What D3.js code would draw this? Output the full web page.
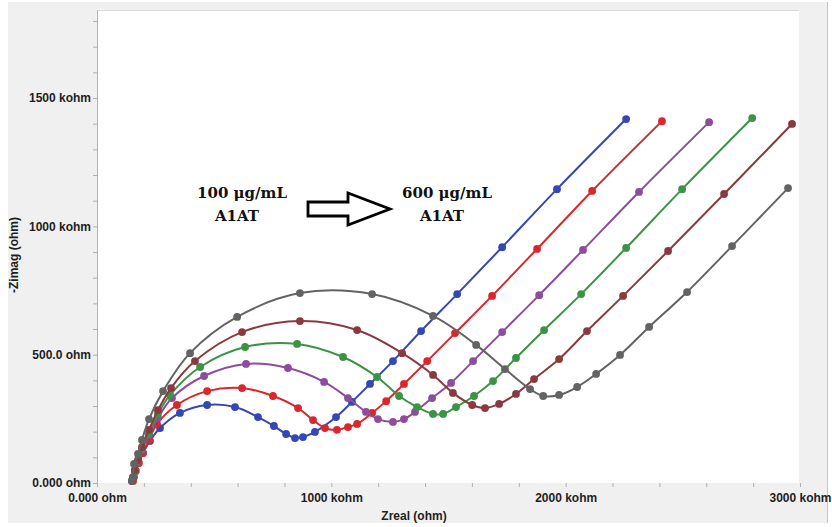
<!DOCTYPE html>
<html>
<head>
<meta charset="utf-8">
<script src="https://cdn.jsdelivr.net/npm/d3@7"></script>
<style>
  body { margin: 0; background: #fff; }
</style>
</head>
<body>
<div id="nyquist"></div>
<script>
// Nyquist data (ohm)
var blueX = [149,154,162,175,196,226,269,354,470,589,687,755,807,845,879,930,1020,1088,1165,1263,1383,1537,1729,1963,2258];
var blueY = [8,23,47,78,117,164,214,273,304,296,257,222,191,175,179,199,257,316,386,475,592,736,919,1145,1418];

var redX = [154,158,166,179,196,222,256,341,470,619,751,858,922,973,1024,1071,1110,1174,1234,1310,1409,1528,1686,1878,2113,2411];
var redY = [8,23,47,78,117,168,230,304,358,370,339,292,245,214,207,218,230,273,319,386,475,584,729,912,1138,1410];

var purpleX = [154,162,175,192,222,260,320,457,636,815,969,1071,1148,1199,1263,1310,1357,1430,1511,1605,1729,1887,2074,2313,2612];
var purpleY = [20,47,82,129,187,253,331,417,464,448,394,331,277,249,238,249,277,331,390,475,588,732,908,1134,1406];

var greenX = [154,162,175,192,222,260,312,440,632,854,1050,1195,1289,1366,1434,1477,1532,1609,1690,1788,1908,2066,2258,2497,2796];
var greenY = [20,47,86,132,195,269,343,452,530,542,491,413,339,296,269,269,296,339,397,487,596,736,916,1145,1422];

var brownX = [154,162,175,192,222,260,316,418,619,866,1110,1302,1434,1519,1601,1656,1716,1788,1865,1972,2091,2245,2437,2676,2966];
var brownY = [20,51,90,140,207,284,370,475,588,631,596,506,421,351,304,292,308,347,405,483,592,729,904,1126,1399];

var grayX = [149,154,158,175,192,222,282,397,598,866,1174,1434,1618,1741,1848,1904,1972,2049,2130,2232,2356,2518,2710,2949];
var grayY = [8,23,74,113,168,249,358,506,647,740,736,651,538,444,366,339,343,374,425,499,608,744,923,1149];

var seriesColors = ["#3447b2", "#d9272b", "#8d4d9d", "#3b9346", "#8a3a3e", "#636363"];

// tick labels
var xTickValues = [0, 1000, 2000, 3000];
var xTickLabels = ["0.000 ohm", "1000 kohm", "2000 kohm", "3000 kohm"];
var yTickValues = [0, 500, 1000, 1500];
var yTickLabels = ["0.000 ohm", "500.0 ohm", "1000 kohm", "1500 kohm"];

var series = [
  {x: blueX, y: blueY},
  {x: redX, y: redY},
  {x: purpleX, y: purpleY},
  {x: greenX, y: greenY},
  {x: brownX, y: brownY},
  {x: grayX, y: grayY}
].map(function(s, i) {
  return {color: seriesColors[i], pts: s.x.map(function(v, j) { return [v, s.y[j]]; })};
});

// dimensions
var W = 832, H = 527;
var margin = {top: 10, left: 97},
    width = 703,
    height = 473;

var svg = d3.select("#nyquist")
  .append("svg")
    .attr("width", W)
    .attr("height", H);

// grey panel behind everything
svg.append("rect")
  .attr("x", 8).attr("y", 2)
  .attr("width", 820).attr("height", 521)
  .attr("fill", "#f0f0f0");
svg.append("line")
  .attr("x1", 827.5).attr("x2", 827.5)
  .attr("y1", 2).attr("y2", 523)
  .attr("stroke", "#c4c4c4");

var g = svg.append("g")
  .attr("transform", "translate(" + margin.left + "," + margin.top + ")");

// white plot area
g.append("rect")
  .attr("width", width - 1).attr("height", height)
  .attr("fill", "#fff");
g.append("line")
  .attr("x1", 0).attr("x2", width - 1)
  .attr("y1", 0.5).attr("y2", 0.5)
  .attr("stroke", "#d8d8d8");

var x = d3.scaleLinear().domain([0, 3000]).range([0, width]);
var y = d3.scaleLinear().domain([0, 1843]).range([height, 0]);

var font = "'Liberation Sans', Arial, sans-serif";

// X axis
var xAxis = g.append("g")
  .attr("transform", "translate(0," + height + ")")
  .call(d3.axisBottom(x)
    .tickValues(d3.range(0, 3001, 200))
    .tickSizeInner(4).tickSizeOuter(0).tickPadding(6)
    .tickFormat(function(d) { var i = xTickValues.indexOf(d); return i < 0 ? "" : xTickLabels[i]; }));
xAxis.select(".domain").remove();

// Y axis
var yAxis = g.append("g")
  .call(d3.axisLeft(y)
    .tickValues(d3.range(0, 1801, 100))
    .tickSizeInner(4).tickSizeOuter(0).tickPadding(2)
    .tickFormat(function(d) { var i = yTickValues.indexOf(d); return i < 0 ? "" : yTickLabels[i]; }));
yAxis.select(".domain").attr("stroke", "#b4b4b4");

g.selectAll(".tick line").attr("stroke", "#b0b0b0");
g.selectAll(".tick text")
  .style("font-family", font)
  .style("font-size", "12px")
  .style("font-weight", "bold")
  .attr("fill", "#1e1e1e");

// axis titles
svg.append("text")
  .attr("x", 414).attr("y", 520)
  .attr("text-anchor", "middle")
  .style("font-family", font).style("font-size", "12px").style("font-weight", "bold")
  .attr("fill", "#1e1e1e")
  .text("Zreal (ohm)");

svg.append("text")
  .attr("transform", "translate(18,255)rotate(-90)")
  .attr("text-anchor", "middle")
  .style("font-family", font).style("font-size", "12px").style("font-weight", "bold")
  .attr("fill", "#1e1e1e")
  .text("-Zimag (ohm)");

// lines + markers
var line = d3.line()
  .x(function(d) { return x(d[0]); })
  .y(function(d) { return y(d[1]); })
  .curve(d3.curveCatmullRom.alpha(0.5));

series.forEach(function(s) {
  g.append("path")
    .datum(s.pts)
    .attr("d", line)
    .attr("fill", "none")
    .attr("stroke", s.color)
    .attr("stroke-width", 2);
  g.selectAll(null)
    .data(s.pts)
    .enter()
    .append("circle")
      .attr("cx", function(d) { return x(d[0]); })
      .attr("cy", function(d) { return y(d[1]); })
      .attr("r", 3.9)
      .attr("fill", s.color);
});

// annotation: concentration arrow
var serif = "'DejaVu Serif', 'Liberation Serif', serif";
function label(x0, yb, t) {
  svg.append("text")
    .attr("x", x0).attr("y", yb)
    .attr("text-anchor", "middle")
    .style("font-family", serif).style("font-size", "15px").style("font-weight", "bold")
    .attr("fill", "#111")
    .text(t);
}
label(242, 198, "100 \u03bcg/mL");
label(237, 221, "A1AT");
label(447, 198, "600 \u03bcg/mL");
label(442, 221, "A1AT");

svg.append("path")
  .attr("d", "M308,202 L348,202 L348,193 L390,209 L348,225 L348,216 L308,216 Z")
  .attr("fill", "#fff")
  .attr("stroke", "#000")
  .attr("stroke-width", 2.8)
  .attr("stroke-linejoin", "miter");
</script>
</body>
</html>
